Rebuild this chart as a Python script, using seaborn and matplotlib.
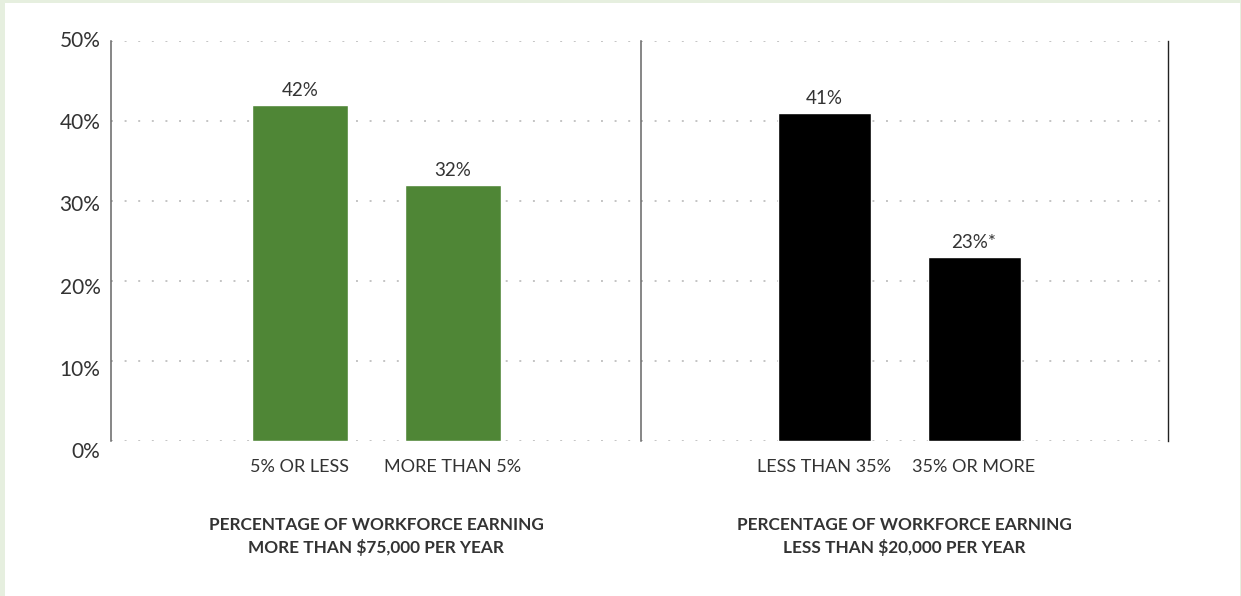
import matplotlib
matplotlib.use("Agg")
import matplotlib.pyplot as plt
import seaborn as sns
import pandas as pd

# Share of firms in each group (percent)
high_earner_groups = ["5% OR LESS", "MORE THAN 5%"]
high_earner_values = [42, 32]
high_earner_labels = ["42%", "32%"]

low_earner_groups = ["LESS THAN 35%", "35% OR MORE"]
low_earner_values = [41, 23]
low_earner_labels = ["41%", "23%*"]

panel_titles = [
    "PERCENTAGE OF WORKFORCE EARNING\nMORE THAN $75,000 PER YEAR",
    "PERCENTAGE OF WORKFORCE EARNING\nLESS THAN $20,000 PER YEAR",
]
y_ticks = [0, 10, 20, 30, 40, 50]
y_tick_labels = ["0%", "10%", "20%", "30%", "40%", "50%"]

GREEN = "#4f8636"
BLACK = "#000000"
TEXT = "#333333"
GRID = "#c4c4c4"
SPINE = "#666666"

sns.set_theme(style="white")
plt.rcParams["font.family"] = ["Lato", "DejaVu Sans"]

fig = plt.figure(figsize=(12.41, 5.96), dpi=100)
fig.patch.set_facecolor("#e6efdf")
# white inner panel
fig.add_artist(plt.Rectangle((5 / 1241, 0), (1240 - 5) / 1241, (596 - 3) / 596,
                             transform=fig.transFigure, facecolor="white",
                             edgecolor="none", zorder=0))

bottom = 155 / 596
height = 400 / 596
ax1 = fig.add_axes([111 / 1241, bottom, (641 - 111) / 1241, height])
ax2 = fig.add_axes([641 / 1241, bottom, (1168 - 641) / 1241, height], sharey=ax1)

panels = [
    (ax1, high_earner_groups, high_earner_values, high_earner_labels, GREEN, (-1.235, 2.229), 0.63),
    (ax2, low_earner_groups, low_earner_values, low_earner_labels, BLACK, (-1.22, 2.293), 0.62),
]

for i, (ax, groups, values, labels, color, xlim, width) in enumerate(panels):
    df = pd.DataFrame({"group": groups, "value": values})
    sns.barplot(data=df, x="group", y="value", color=color, width=width,
                saturation=1, ax=ax, zorder=3)
    ax.set_facecolor("none")
    ax.set_xlim(*xlim)
    ax.set_ylim(0, 50)
    ax.set_xlabel("")
    ax.set_ylabel("")
    for s in ["top", "bottom", "right"]:
        ax.spines[s].set_visible(False)
    ax.spines["left"].set_color(SPINE)
    ax.spines["left"].set_linewidth(1.1)
    if i == 1:
        ax.spines["right"].set_visible(True)
        ax.spines["right"].set_color("#222222")
        ax.spines["right"].set_linewidth(1.0)

    # dotted horizontal guides
    for v in y_ticks:
        ax.axhline(v, color=GRID, linewidth=1.4, linestyle=(0, (1, 6.0)), zorder=1)

    ax.tick_params(axis="both", length=0)
    ax.set_xticks(range(len(groups)))
    ax.set_xticklabels(groups, fontsize=13, color=TEXT)
    ax.tick_params(axis="x", pad=13)
    ax.set_yticks(y_ticks)
    ax.set_yticklabels([])

    for bar, lab in zip(ax.patches, labels):
        ax.annotate(lab, (bar.get_x() + bar.get_width() / 2, bar.get_height()),
                    xytext=(0, 4), textcoords="offset points",
                    ha="center", va="bottom", fontsize=13.5, color=TEXT)

    ax.text(0.5, -0.19, panel_titles[i], transform=ax.transAxes, ha="center",
            va="top", fontsize=12.4, fontweight="bold", color=TEXT,
            linespacing=1.45)

# y-axis percentage labels
for v, lab in zip(y_ticks, y_tick_labels):
    ax1.text(-0.02, 50 - (50 - v) * 1.0275, lab, transform=ax1.get_yaxis_transform(),
             ha="right", va="center", fontsize=15, color=TEXT, clip_on=False)

plt.setp(ax2.get_yticklabels(), visible=False)

fig.savefig("out.png", dpi=100, facecolor=fig.get_facecolor())
